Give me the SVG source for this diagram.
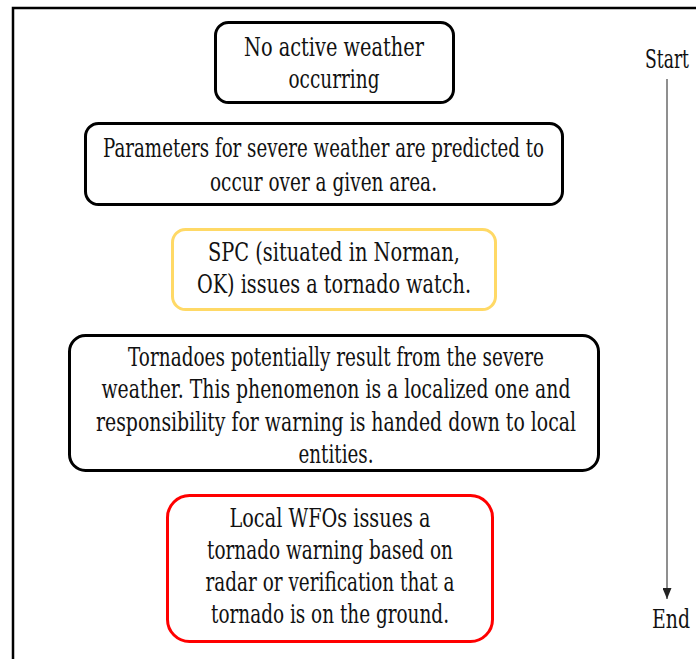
<svg xmlns="http://www.w3.org/2000/svg" width="696" height="659" viewBox="0 0 696 659">
<style>
.box{fill:#fff;stroke-width:3}
.blk{stroke:#000}
.yel{stroke:#FFD966}
.red{stroke:#FF0000}
.t{font-family:"DejaVu Serif", serif;font-size:26px;fill:#111;text-anchor:middle}
</style>
<defs>
<marker id="ah" markerWidth="11" markerHeight="9" refX="11" refY="4.5" orient="auto" markerUnits="userSpaceOnUse" viewBox="0 0 11 9">
<path d="M0,0 L11,4.5 L0,9 Z" fill="#222"/>
</marker>
</defs>
<rect width="696" height="659" fill="#fff"/>
<path d="M13,659 V8 H696" fill="none" stroke="#000" stroke-width="2.5"/>
<g id="n1">
<rect class="box blk" x="215.5" y="22.5" width="238" height="80" rx="13"/>
<text class="t" x="334" y="56" textLength="180" lengthAdjust="spacingAndGlyphs">No active weather</text>
<text class="t" x="334" y="88" textLength="91" lengthAdjust="spacingAndGlyphs">occurring</text>
</g>
<g id="n2">
<rect class="box blk" x="85.5" y="123.5" width="477" height="81" rx="13"/>
<text class="t" x="323.5" y="157" textLength="441" lengthAdjust="spacingAndGlyphs">Parameters for severe weather are predicted to</text>
<text class="t" x="323.5" y="191" textLength="227" lengthAdjust="spacingAndGlyphs">occur over a given area.</text>
</g>
<g id="n3">
<rect class="box yel" x="172.5" y="229.5" width="323" height="80" rx="13"/>
<text class="t" x="334" y="261" textLength="252" lengthAdjust="spacingAndGlyphs">SPC (situated in Norman,</text>
<text class="t" x="334" y="293" textLength="274" lengthAdjust="spacingAndGlyphs">OK) issues a tornado watch.</text>
</g>
<g id="n4">
<rect class="box blk" x="69.5" y="335.5" width="529" height="135" rx="16"/>
<text class="t" x="336" y="366" textLength="416" lengthAdjust="spacingAndGlyphs">Tornadoes potentially result from the severe</text>
<text class="t" x="336" y="398" textLength="469" lengthAdjust="spacingAndGlyphs">weather. This phenomenon is a localized one and</text>
<text class="t" x="336" y="431" textLength="480" lengthAdjust="spacingAndGlyphs">responsibility for warning is handed down to local</text>
<text class="t" x="336" y="463" textLength="75" lengthAdjust="spacingAndGlyphs">entities.</text>
</g>
<g id="n5">
<rect class="box red" x="167.5" y="495.5" width="325" height="146" rx="22"/>
<text class="t" x="330" y="527" textLength="201" lengthAdjust="spacingAndGlyphs">Local WFOs issues a</text>
<text class="t" x="330" y="559" textLength="246" lengthAdjust="spacingAndGlyphs">tornado warning based on</text>
<text class="t" x="330" y="591" textLength="249" lengthAdjust="spacingAndGlyphs">radar or verification that a</text>
<text class="t" x="330" y="623" textLength="238" lengthAdjust="spacingAndGlyphs">tornado is on the ground.</text>
</g>
<g id="labels">
<text class="t" x="667" y="68" textLength="44" lengthAdjust="spacingAndGlyphs">Start</text>
<text class="t" x="671" y="628" textLength="38" lengthAdjust="spacingAndGlyphs">End</text>
</g>
<g id="connectors">
<line x1="667" y1="79" x2="667" y2="599" stroke="#6a6a6a" stroke-width="1.5" marker-end="url(#ah)"/>
</g>
</svg>
